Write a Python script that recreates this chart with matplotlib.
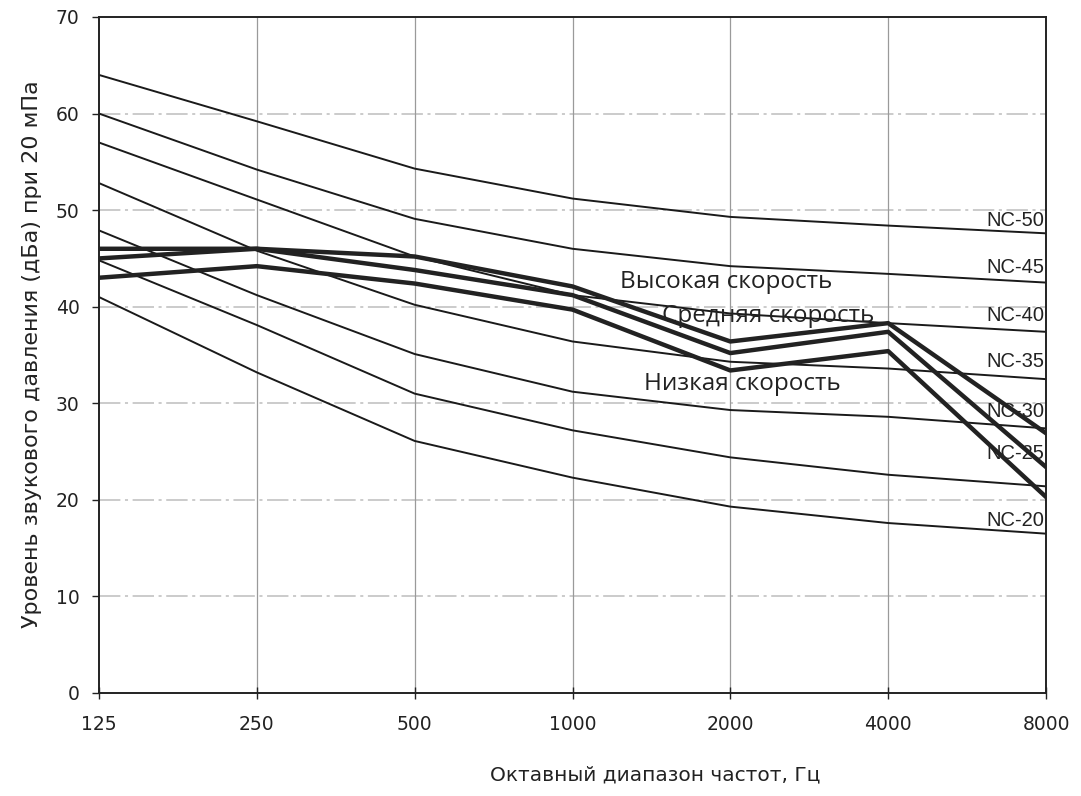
import numpy as np
import matplotlib.pyplot as plt

# octave bands
freqs = ["125", "250", "500", "1000", "2000", "4000", "8000"]

# NC curves
nc_names = ["NC-50", "NC-45", "NC-40", "NC-35", "NC-30", "NC-25", "NC-20"]
nc50 = [64, 59.2, 54.3, 51.2, 49.3, 48.4, 47.6]
nc45 = [60, 54.2, 49.1, 46.0, 44.2, 43.4, 42.5]
nc40 = [57, 51.1, 45.2, 41.2, 39.3, 38.3, 37.4]
nc35 = [52.8, 45.8, 40.2, 36.4, 34.3, 33.6, 32.5]
nc30 = [47.9, 41.2, 35.1, 31.2, 29.3, 28.6, 27.4]
nc25 = [44.8, 38.1, 31.0, 27.2, 24.4, 22.6, 21.4]
nc20 = [41.0, 33.2, 26.1, 22.3, 19.3, 17.6, 16.5]
nc_label_y = [48.9, 44.1, 39.1, 34.3, 29.1, 24.8, 17.9]

# fan speeds
high = [46.0, 46.0, 45.2, 42.1, 36.4, 38.3, 26.9]
medium = [45.0, 46.0, 43.8, 41.2, 35.2, 37.4, 23.4]
low = [43.0, 44.2, 42.4, 39.7, 33.4, 35.4, 20.3]

fig = plt.figure(figsize=(10.81, 7.96), dpi=100)
ax = fig.add_axes([99/1081, 1-693/796, 947/1081, 676/796])

x = np.arange(len(freqs))

# grid
for yv in range(10, 70, 10):
    ax.axhline(yv, color="#bdbdbd", lw=1.1, ls=(0, (14, 3, 2, 3)), zorder=0)
for xv in x[1:-1]:
    ax.axvline(xv, color="#9a9a9a", lw=0.9, zorder=0)

for vals in [nc50, nc45, nc40, nc35, nc30, nc25, nc20]:
    ax.plot(x, vals, color="#1a1a1a", lw=1.4, zorder=2)

for vals in [high, medium, low]:
    ax.plot(x, vals, color="#222222", lw=3.2, zorder=3)

for name, yl in zip(nc_names, nc_label_y):
    ax.text(5.99, yl, name, ha="right", va="center", fontsize=14.5,
            family="Liberation Sans", color="#222222", zorder=4)

ax.text(3.30, 42.6, "Высокая скорость", ha="left", va="center",
        fontsize=17.5, family="Open Sans", color="#222222", zorder=4)
ax.text(3.57, 39.0, "Средняя скорость", ha="left", va="center",
        fontsize=17.5, family="Open Sans", color="#222222", zorder=4)
ax.text(3.45, 32.0, "Низкая скорость", ha="left", va="center",
        fontsize=17.5, family="Open Sans", color="#222222", zorder=4)

ax.set_xlim(0, 6)
ax.set_ylim(0, 70)
ax.set_xticks(x)
ax.set_xticklabels(freqs)
ax.set_yticks(range(0, 71, 10))
ax.tick_params(axis="x", direction="inout", length=9, width=1, pad=11,
               labelsize=13.5, colors="#222222")
ax.tick_params(axis="y", direction="out", length=5, width=1, pad=9,
               labelsize=13.5, colors="#222222")
for s in ax.spines.values():
    s.set_color("#222222")
    s.set_linewidth(1.4)

fig.text(0.03, 0.555, "Уровень звукового давления (дБа) при 20 мПа",
         rotation=90, ha="center", va="center", fontsize=16,
         color="#222222")
fig.text(655/1081, 1-775/796, "Октавный диапазон частот, Гц",
         ha="center", va="center", fontsize=14.5, color="#222222")

fig.savefig("out.png", dpi=100)
